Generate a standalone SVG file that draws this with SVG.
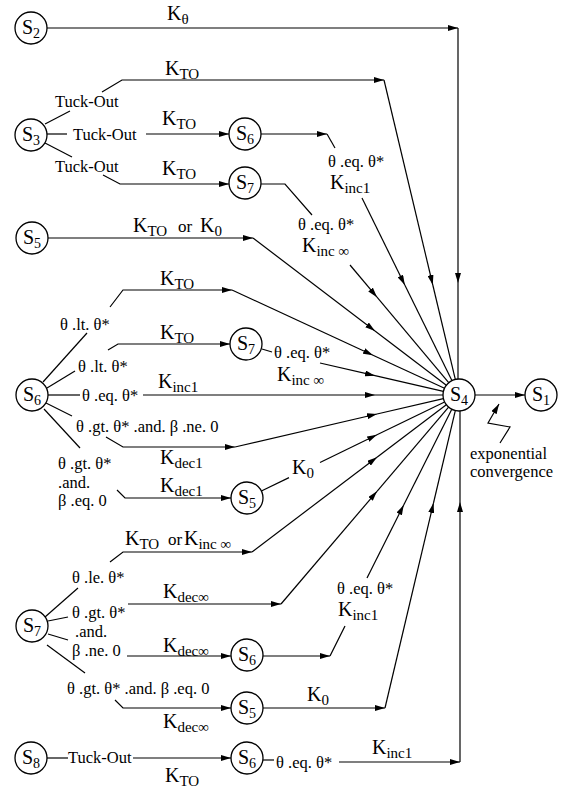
<svg xmlns="http://www.w3.org/2000/svg" width="565" height="788" viewBox="0 0 565 788">
<style>
text{font-family:"Liberation Serif","Times New Roman",serif;fill:#000}
.n circle{fill:#fff;stroke:#000;stroke-width:1.3}
.s{font-size:20px;text-anchor:middle}
.s .b{font-size:14px}
.c path{fill:none;stroke:#000;stroke-width:1.2}
.a{marker-end:url(#ah)}
.l{font-size:16.5px}
.k{font-size:20px}
.k .b{font-size:15px}
</style>
<defs>
<marker id="ah" viewBox="0 0 10 6" refX="10" refY="3" markerWidth="10" markerHeight="6" markerUnits="userSpaceOnUse" orient="auto"><path d="M0,0 L10,3 L0,6 z" fill="#000"/></marker>
</defs>
<g id="connectors" class="c">
<path class="a" d="M47,28 H458"/><path class="a" d="M458,28 V283"/><path d="M458,283 V379"/>
<path d="M45,124 L70,111"/><path class="a" d="M102,92 L122,80 H384"/><path class="a" d="M384,80 L432.8,285"/><path d="M432.8,285 L455.3,379.4"/>
<path d="M47,134 H67"/><path class="a" d="M146,134 H229"/>
<path d="M45,143 L72,157"/><path class="a" d="M103,175 L120,184 H229"/>
<path class="a" d="M261,134 H327"/><path d="M327,134 L335,148"/><path class="a" d="M362,198 L404.8,285"/><path d="M404.8,285 L451.9,380.6"/>
<path d="M261,184 H285 L312,215"/><path class="a" d="M350,265 L377,297.2"/><path d="M377,297.2 L448.7,382.7"/>
<path class="a" d="M48,238 H253"/><path class="a" d="M253,238 L375,331"/><path d="M375,331 L446.3,385.3"/>
<path d="M43,382 L87,333"/><path class="a" d="M110,307 L123,290 H232"/><path class="a" d="M232,290 L373,355.2"/><path d="M373,355.2 L444.5,388.3"/>
<path d="M47,388 L75,371"/><path class="a" d="M108,350 L118,344 H230"/>
<path d="M262,349 L272,352"/><path class="a" d="M320,363 L375,375.7"/><path d="M375,375.7 L443.4,391.4"/>
<path d="M48,395 H80"/><path class="a" d="M143,395 H375"/><path d="M375,395 H443"/>
<path d="M46,403 L72,416"/><path class="a" d="M106,437 L123,447 H235"/><path class="a" d="M235,447 L377,414"/><path d="M377,414 L443.4,398.6"/>
<path d="M44,409 L80,448"/><path class="a" d="M117,490 L125,498 H231"/>
<path d="M261.4,491 L289,477.6"/><path class="a" d="M320,462.5 L377,434.8"/><path d="M377,434.8 L444.6,402"/>
<path d="M45,617 L78,588"/><path class="a" d="M110,562 L123,552 H252"/><path class="a" d="M252,552 L377,457.2"/><path d="M377,457.2 L446.3,404.7"/>
<path d="M48,621 L68,617"/><path class="a" d="M128,604 H281"/><path class="a" d="M281,604 L377,491.3"/><path d="M377,491.3 L448.6,407.2"/>
<path d="M48,634 L68,640"/><path class="a" d="M127,656 H231"/>
<path d="M47,645 L85,673"/><path class="a" d="M115,700 L123,708 H231"/>
<path class="a" d="M263,656 H330"/><path d="M330,656 L345,626"/><path class="a" d="M367,578 L403.7,505"/><path d="M403.7,505 L451.8,409.3"/>
<path class="a" d="M263,708 H385"/><path class="a" d="M385,708 L433.5,503"/><path d="M433.5,503 L455.3,410.6"/>
<path d="M47,758 H68"/><path class="a" d="M133,758 H231"/>
<path d="M263,760 H274"/><path class="a" d="M339,762 H460"/><path class="a" d="M460,762 V502"/><path d="M460,502 V411"/>
<path class="a" d="M475,395 H525"/>
<path class="a" d="M500,443 L510,427 L488,423 L499,404"/>
</g>
<g id="labels">
<text class="k" x="167" y="20">K<tspan class="b" dy="4">θ</tspan></text>
<text class="l" x="55" y="107">Tuck-Out</text>
<text class="k" x="165" y="75">K<tspan class="b" dy="4">TO</tspan></text>
<text class="l" x="73" y="140">Tuck-Out</text>
<text class="k" x="162" y="125">K<tspan class="b" dy="4">TO</tspan></text>
<text class="l" x="55" y="172">Tuck-Out</text>
<text class="k" x="162" y="175">K<tspan class="b" dy="4">TO</tspan></text>
<text class="l" x="328" y="167">θ .eq. θ*</text>
<text class="k" x="330" y="189">K<tspan class="b" dy="4">inc1</tspan></text>
<text class="l" x="298" y="230">θ .eq. θ*</text>
<text class="k" x="302" y="252">K<tspan class="b" dy="4">inc ∞</tspan></text>
<text class="k" x="133" y="232">K<tspan class="b" dy="4">TO</tspan><tspan x="178" dy="-4" font-size="17">or</tspan><tspan x="200">K</tspan><tspan class="b" dy="4">0</tspan></text>
<text class="l" x="60" y="330">θ .lt. θ*</text>
<text class="k" x="160" y="285">K<tspan class="b" dy="4">TO</tspan></text>
<text class="l" x="78" y="372">θ .lt. θ*</text>
<text class="k" x="160" y="339">K<tspan class="b" dy="4">TO</tspan></text>
<text class="l" x="274" y="358">θ .eq. θ*</text>
<text class="k" x="277" y="381">K<tspan class="b" dy="4">inc ∞</tspan></text>
<text class="l" x="82" y="401">θ .eq. θ*</text>
<text class="k" x="158" y="388">K<tspan class="b" dy="4">inc1</tspan></text>
<text class="l" x="76" y="432">θ .gt. θ* .and. β .ne. 0</text>
<text class="k" x="160" y="464">K<tspan class="b" dy="4">dec1</tspan></text>
<text class="l" x="58" y="469">θ .gt. θ*</text>
<text class="l" x="58" y="488">.and.</text>
<text class="l" x="58" y="506">β .eq. 0</text>
<text class="k" x="160" y="492">K<tspan class="b" dy="4">dec1</tspan></text>
<text class="k" x="292" y="474">K<tspan class="b" dy="4">0</tspan></text>
<text class="l" x="72" y="583">θ .le. θ*</text>
<text class="k" x="125" y="545">K<tspan class="b" dy="4">TO</tspan><tspan x="168" dy="-4" font-size="17">or</tspan><tspan x="184">K</tspan><tspan class="b" dy="4">inc ∞</tspan></text>
<text class="l" x="72" y="618">θ .gt. θ*</text>
<text class="k" x="163" y="598">K<tspan class="b" dy="4">dec∞</tspan></text>
<text class="l" x="75" y="637">.and.</text>
<text class="l" x="72" y="656">β .ne. 0</text>
<text class="k" x="163" y="652">K<tspan class="b" dy="4">dec∞</tspan></text>
<text class="l" x="67" y="694">θ .gt. θ* .and. β .eq. 0</text>
<text class="k" x="163" y="728">K<tspan class="b" dy="4">dec∞</tspan></text>
<text class="l" x="337" y="594">θ .eq. θ*</text>
<text class="k" x="338" y="616">K<tspan class="b" dy="4">inc1</tspan></text>
<text class="k" x="307" y="701">K<tspan class="b" dy="4">0</tspan></text>
<text class="l" x="68" y="763">Tuck-Out</text>
<text class="k" x="165" y="782">K<tspan class="b" dy="4">TO</tspan></text>
<text class="l" x="276" y="768">θ .eq. θ*</text>
<text class="k" x="372" y="754">K<tspan class="b" dy="4">inc1</tspan></text>
<text class="l" x="470" y="459">exponential</text>
<text class="l" x="470" y="477">convergence</text>
</g>
<g id="n-S2" class="n"><circle cx="31" cy="28" r="16"/><text class="s" x="31" y="34">S<tspan class="b" dy="4">2</tspan></text></g>
<g id="n-S3" class="n"><circle cx="31" cy="135" r="16"/><text class="s" x="31" y="141">S<tspan class="b" dy="4">3</tspan></text></g>
<g id="n-S6a" class="n"><circle cx="245" cy="134" r="16"/><text class="s" x="245" y="140">S<tspan class="b" dy="4">6</tspan></text></g>
<g id="n-S7a" class="n"><circle cx="245" cy="183" r="16"/><text class="s" x="245" y="189">S<tspan class="b" dy="4">7</tspan></text></g>
<g id="n-S5a" class="n"><circle cx="32" cy="238" r="16"/><text class="s" x="32" y="244">S<tspan class="b" dy="4">5</tspan></text></g>
<g id="n-S6b" class="n"><circle cx="32" cy="395" r="16"/><text class="s" x="32" y="401">S<tspan class="b" dy="4">6</tspan></text></g>
<g id="n-S7b" class="n"><circle cx="246" cy="344" r="16"/><text class="s" x="246" y="350">S<tspan class="b" dy="4">7</tspan></text></g>
<g id="n-S4" class="n"><circle cx="459" cy="395" r="16"/><text class="s" x="459" y="401">S<tspan class="b" dy="4">4</tspan></text></g>
<g id="n-S1" class="n"><circle cx="541" cy="395" r="16"/><text class="s" x="541" y="401">S<tspan class="b" dy="4">1</tspan></text></g>
<g id="n-S5b" class="n"><circle cx="247" cy="498" r="16"/><text class="s" x="247" y="504">S<tspan class="b" dy="4">5</tspan></text></g>
<g id="n-S7c" class="n"><circle cx="32" cy="626" r="16"/><text class="s" x="32" y="632">S<tspan class="b" dy="4">7</tspan></text></g>
<g id="n-S6c" class="n"><circle cx="247" cy="655" r="16"/><text class="s" x="247" y="661">S<tspan class="b" dy="4">6</tspan></text></g>
<g id="n-S5c" class="n"><circle cx="247" cy="708" r="16"/><text class="s" x="247" y="714">S<tspan class="b" dy="4">5</tspan></text></g>
<g id="n-S8" class="n"><circle cx="31" cy="758" r="16"/><text class="s" x="31" y="764">S<tspan class="b" dy="4">8</tspan></text></g>
<g id="n-S6d" class="n"><circle cx="247" cy="758" r="16"/><text class="s" x="247" y="764">S<tspan class="b" dy="4">6</tspan></text></g>
</svg>
